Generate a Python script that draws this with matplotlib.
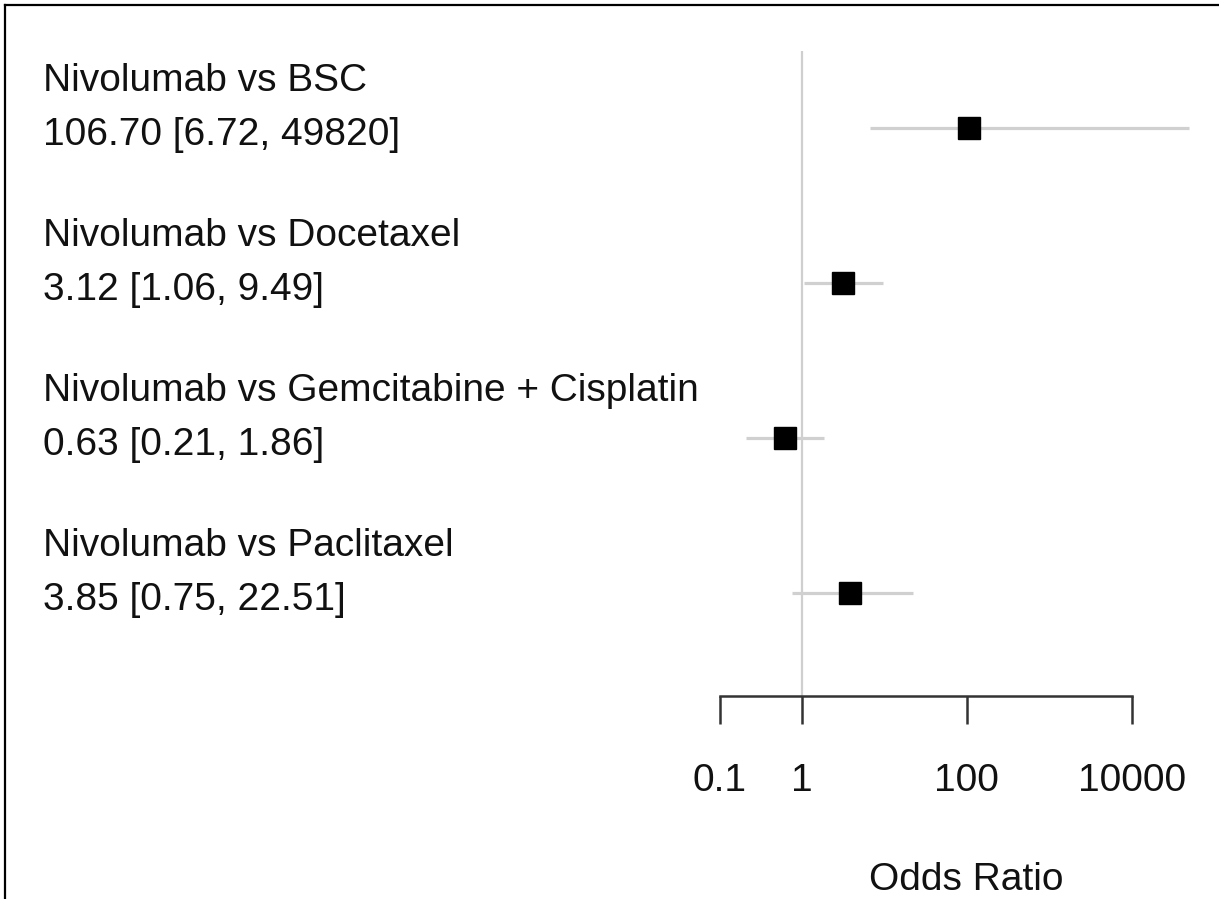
import matplotlib
matplotlib.use("Agg")
import matplotlib.pyplot as plt
from matplotlib.lines import Line2D
import numpy as np

# ---- data ----
comparisons = ["Nivolumab vs BSC", "Nivolumab vs Docetaxel",
               "Nivolumab vs Gemcitabine + Cisplatin", "Nivolumab vs Paclitaxel"]
odds_ratio = [106.70, 3.12, 0.63, 3.85]
ci_low = [6.72, 1.06, 0.21, 0.75]
ci_high = [49820, 9.49, 1.86, 22.51]
estimate_labels = ["106.70 [6.72, 49820]", "3.12 [1.06, 9.49]",
                   "0.63 [0.21, 1.86]", "3.85 [0.75, 22.51]"]
tick_values = [0.1, 1, 100, 10000]
tick_labels = ["0.1", "1", "100", "10000"]
xlabel = "Odds Ratio"

plt.rcParams["font.family"] = ["Liberation Sans", "DejaVu Sans"]

W, H = 1219, 899
fig = plt.figure(figsize=(W / 100, H / 100), dpi=100)

# axes in pixel geometry
ax_left, ax_right, ax_top, ax_bottom = 600, 1219, 5, 696
ax = fig.add_axes([ax_left / W, (H - ax_bottom) / H,
                   (ax_right - ax_left) / W, (ax_bottom - ax_top) / H])
ax.set_xscale("log")
one_px, dec_px = 802, 82.4
ax.set_xlim(10 ** ((ax_left - one_px) / dec_px), 10 ** ((ax_right - one_px) / dec_px))
row0_px, row_step = 128, 155
ylo = 1 + (ax_bottom - row0_px) / row_step
yhi = 1 + (ax_top - row0_px) / row_step
ax.set_ylim(ylo, yhi)

rows = np.arange(1, len(comparisons) + 1)

# reference line at OR = 1
ax.vlines(1, 0.5, ylo, color="#cfcfcf", lw=1.6, zorder=1)

# CIs and points
for r, est, lo, hi in zip(rows, odds_ratio, ci_low, ci_high):
    ax.plot([lo, hi], [r, r], color="#d0d0d0", lw=2.3, solid_capstyle="butt",
            zorder=2, clip_on=False)
    ax.plot([est], [r], marker="s", color="black", markersize=15.5, zorder=3,
            clip_on=False)

# text labels
fs = 28
for r, name, lab in zip(rows, comparisons, estimate_labels):
    ax.annotate(name, xy=(43 / W, r), xycoords=("figure fraction", "data"),
                xytext=(0, 37 * 0.72), textcoords="offset points",
                va="baseline", ha="left", fontsize=fs, color="#111111",
                annotation_clip=False)
    ax.annotate(lab, xy=(43 / W, r), xycoords=("figure fraction", "data"),
                xytext=(0, -17 * 0.72), textcoords="offset points",
                va="baseline", ha="left", fontsize=fs, color="#111111",
                annotation_clip=False)

# axis styling
for s in ["top", "right", "left"]:
    ax.spines[s].set_visible(False)
ax.spines["bottom"].set_bounds(tick_values[0], tick_values[-1])
ax.spines["bottom"].set_linewidth(1.8)
ax.spines["bottom"].set_color("#333333")
ax.set_xticks(tick_values)
ax.set_xticklabels(tick_labels)
ax.minorticks_off()
ax.tick_params(axis="x", which="major", length=20, width=1.8, color="#333333",
               direction="out", pad=28, labelsize=fs, labelcolor="#111111")
ax.set_yticks([])
ax.patch.set_alpha(0)

fig.text(966 / W, (H - 890) / H, xlabel, ha="center", va="baseline",
         fontsize=fs, color="#111111")

# frame (top and left edges visible)
fig.add_artist(Line2D([5 / W, 5 / W], [0, (H - 5) / H], transform=fig.transFigure,
                      color="black", lw=1.6))
fig.add_artist(Line2D([5 / W, 1], [(H - 5) / H, (H - 5) / H],
                      transform=fig.transFigure, color="black", lw=1.6))

fig.savefig("out.png", dpi=100, facecolor="white")
